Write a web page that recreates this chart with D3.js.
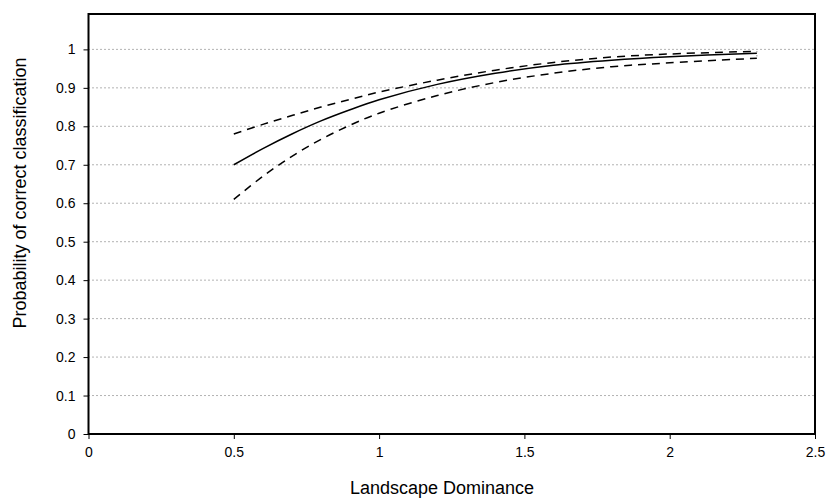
<!DOCTYPE html>
<html>
<head>
<meta charset="utf-8">
<script src="https://cdn.jsdelivr.net/npm/d3@7"></script>
<style>
  body { margin: 0; background: #fff; }
  text { font-family: "Liberation Sans", Arial, sans-serif; fill: #000; }
</style>
</head>
<body>
<svg id="chart"></svg>
<script>
let size = {width: 827, height: 501};
let margin = ({top: 14, right: 12, bottom: 67, left: 88.5});
const innerWidth = size.width - margin.left - margin.right;
const innerHeight = size.height - margin.top - margin.bottom;

// data
const xVals = [0.5, 0.6, 0.7, 0.8, 0.9, 1.0, 1.2, 1.4, 1.6, 1.8, 2.0, 2.3];
const fitted = [0.700, 0.742, 0.780, 0.814, 0.843, 0.869, 0.909, 0.938, 0.959, 0.972, 0.981, 0.990];
const upper = [0.780, 0.805, 0.828, 0.850, 0.870, 0.889, 0.920, 0.946, 0.966, 0.980, 0.988, 0.995];
const lower = [0.610, 0.670, 0.722, 0.766, 0.803, 0.834, 0.880, 0.914, 0.938, 0.955, 0.965, 0.977];
const xTicks = [0, 0.5, 1, 1.5, 2, 2.5];
const yTicks = [0, 0.1, 0.2, 0.3, 0.4, 0.5, 0.6, 0.7, 0.8, 0.9, 1];

let svg = d3.select("#chart")
    .attr("width", size.width)
    .attr("height", size.height);

let g = svg.append("g").attr("transform", `translate(${margin.left},${margin.top})`);

let x = d3.scaleLinear().domain([0, 2.5]).range([0, innerWidth]);
let y = d3.scaleLinear().domain([0, 1.092]).range([innerHeight, 0]);

// dotted gridlines
g.append("g")
    .selectAll("line")
    .data(yTicks.filter(d => d > 0))
    .join("line")
    .attr("x1", 0)
    .attr("x2", innerWidth)
    .attr("y1", d => y(d))
    .attr("y2", d => y(d))
    .attr("stroke", "#666")
    .attr("stroke-width", 1)
    .attr("stroke-dasharray", "1,3");

// axes
let xAxis = g.append("g")
    .attr("transform", `translate(0,${innerHeight})`)
    .call(d3.axisBottom(x).tickValues(xTicks).tickFormat(d3.format("")).tickSize(5).tickPadding(8));
let yAxis = g.append("g")
    .call(d3.axisLeft(y).tickValues(yTicks).tickFormat(d3.format("")).tickSize(5).tickPadding(8));

[xAxis, yAxis].forEach(a => {
    a.select(".domain").remove();
    a.selectAll("line").attr("stroke", "#000");
    a.selectAll("text")
        .style("font-size", "14px")
        .style("font-family", "'Liberation Sans', Arial, sans-serif");
});

// frame
g.append("rect")
    .attr("width", innerWidth)
    .attr("height", innerHeight)
    .attr("fill", "none")
    .attr("stroke", "#000")
    .attr("stroke-width", 2);

let line = d3.line()
    .x((d, i) => x(xVals[i]))
    .y(d => y(d))
    .curve(d3.curveCatmullRom);

g.append("path")
    .attr("d", line(fitted))
    .attr("fill", "none")
    .attr("stroke", "#000")
    .attr("stroke-width", 1.5);

[upper, lower].forEach(s => {
    g.append("path")
        .attr("d", line(s))
        .attr("fill", "none")
        .attr("stroke", "#000")
        .attr("stroke-width", 1.5)
        .attr("stroke-dasharray", "8,6");
});

// little dotted drop at the end of the band
let last = xVals.length - 1;
g.append("line")
    .attr("x1", x(xVals[last]))
    .attr("x2", x(xVals[last]))
    .attr("y1", y(upper[last]))
    .attr("y2", y(lower[last]))
    .attr("stroke", "#666")
    .attr("stroke-dasharray", "1,3");

// axis titles
svg.append("text")
    .attr("x", 442)
    .attr("y", 494)
    .attr("text-anchor", "middle")
    .style("font-size", "18px")
    .text("Landscape Dominance");

svg.append("text")
    .attr("transform", "translate(26,193) rotate(-90)")
    .attr("text-anchor", "middle")
    .style("font-size", "18px")
    .text("Probability of correct classification");
</script>
</body>
</html>
